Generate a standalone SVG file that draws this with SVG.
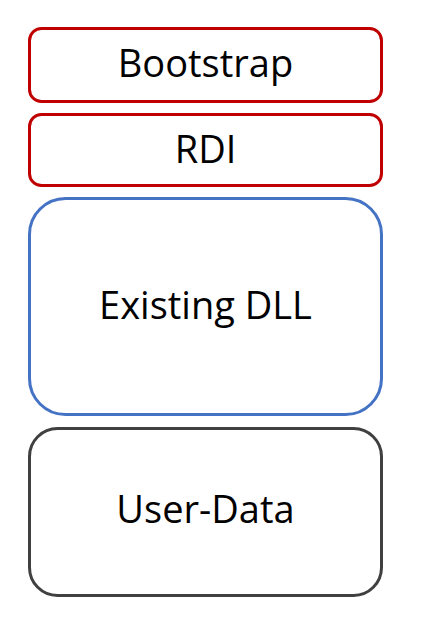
<svg xmlns="http://www.w3.org/2000/svg" width="424" height="626" viewBox="0 0 424 626">
<style>
.box{fill:#fff;stroke-width:3}
.red{stroke:#C00000}
.blue{stroke:#4472C4}
.dark{stroke:#404040}
text{font-family:"Open Sans","Liberation Sans",sans-serif;font-size:38px;fill:#000;text-anchor:middle}
</style>
<rect width="424" height="626" fill="#fff"/>
<g id="bootstrap"><rect class="box red" x="29.5" y="28.5" width="352" height="73" rx="12"/><text x="205.5" y="77">Bootstrap</text></g>
<g id="rdi"><rect class="box red" x="29.5" y="114.5" width="352" height="71" rx="12"/><text x="205.5" y="163">RDI</text></g>
<g id="existing-dll"><rect class="box blue" x="29.5" y="198.5" width="352" height="216" rx="36"/><text x="205.5" y="319">Existing DLL</text></g>
<g id="user-data"><rect class="box dark" x="29.5" y="428.5" width="352" height="167" rx="28"/><text x="205.5" y="523">User-Data</text></g>
<g id="connectors"/>
</svg>
